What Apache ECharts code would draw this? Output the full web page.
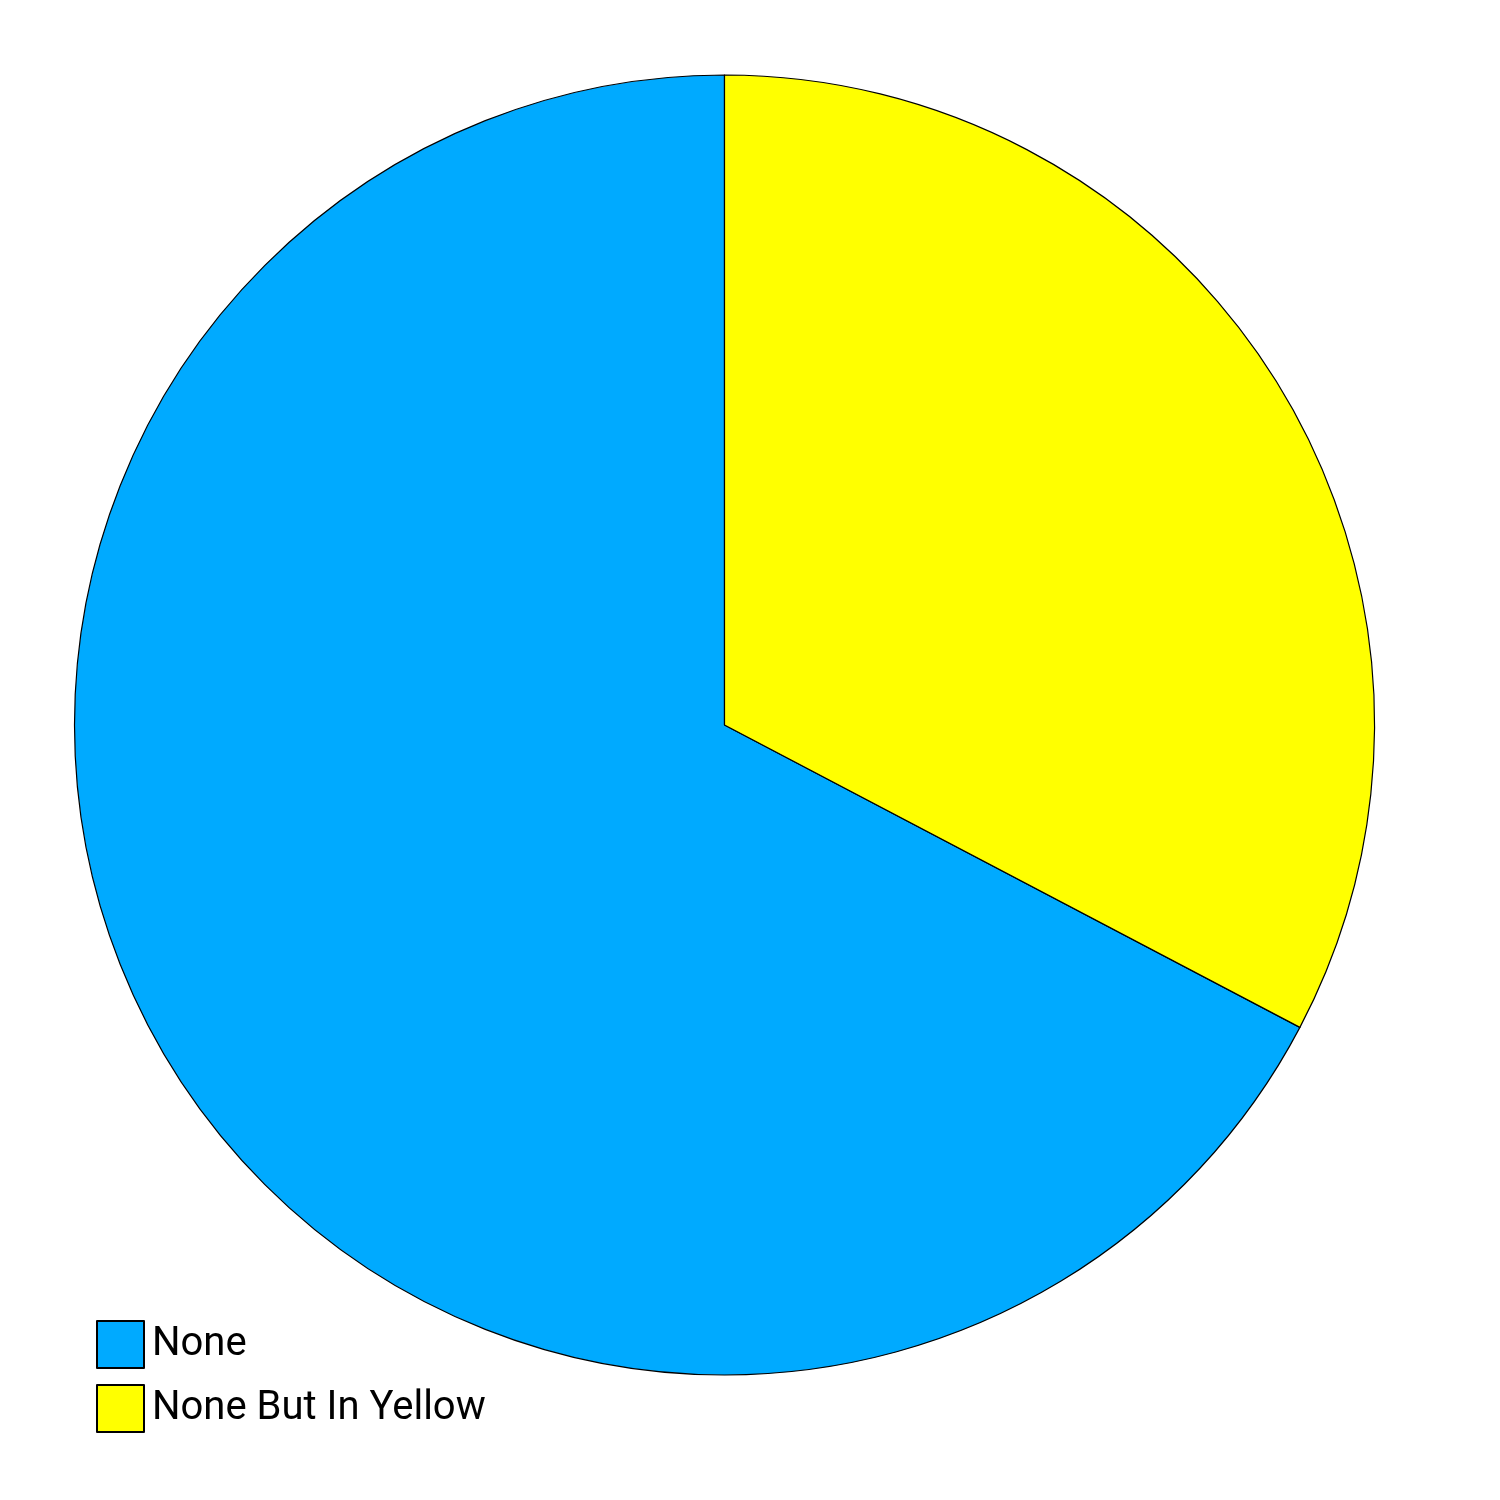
<!DOCTYPE html>
<html>
<head>
<meta charset="utf-8">
<title>Pie</title>
<script src="https://cdn.jsdelivr.net/npm/echarts@6/dist/echarts.min.js"></script>
<style>
  html, body { margin: 0; padding: 0; background: #fff; }
  #main { width: 1500px; height: 1500px; }
</style>
</head>
<body>
<div id="main"></div>
<script>
// 数据
const categories = ['None', 'None But In Yellow']
const values = [67.3, 32.7]
const colors = ['#00AAFF', '#FFFF00']

const myChart = echarts.init(document.querySelector('#main'), null, { renderer: 'canvas' })
myChart.setOption({
  animation: false,
  // 图例
  legend: {
    orient: 'vertical',
    left: 96,
    top: 1320,
    itemWidth: 47,
    itemHeight: 47,
    itemGap: 15,
    icon: 'rect',
    padding: 0,
    textStyle: {
      fontFamily: 'Roboto',
      fontSize: 40,
      color: '#000',
      padding: [5, 0, 0, 3]
    },
    data: categories
  },
  series: [
    {
      type: 'pie',
      center: [724.5, 725],
      radius: 650,
      startAngle: 90,
      clockwise: false,
      label: { show: false },
      labelLine: { show: false },
      itemStyle: {
        borderColor: '#000',
        borderWidth: 1.2
      },
      data: categories.map((name, i) => ({
        name: name,
        value: values[i],
        itemStyle: { color: colors[i] }
      }))
    }
  ]
})
</script>
</body>
</html>
